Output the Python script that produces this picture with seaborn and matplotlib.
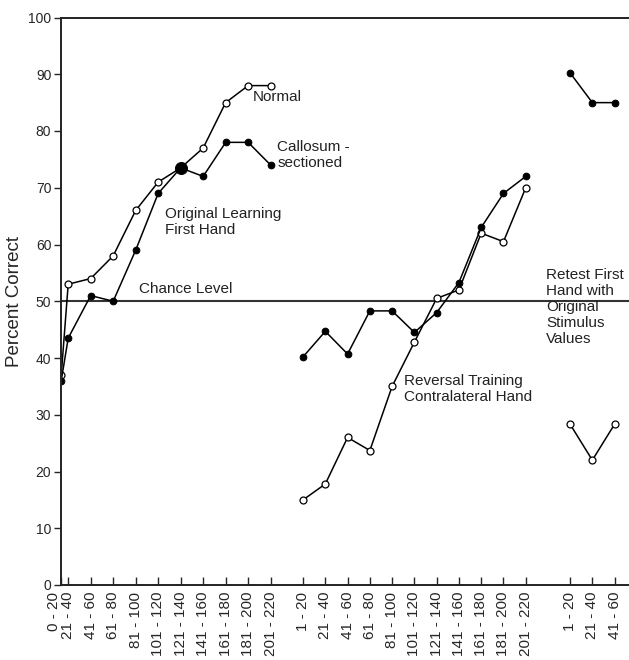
import numpy as np
import matplotlib
matplotlib.use("Agg")
import matplotlib.pyplot as plt
from matplotlib.transforms import ScaledTranslation
import seaborn as sns

# ---------------- data ----------------
labels_orig = ["0 - 20", "21 - 40", "41 - 60", "61 - 80", "81 - 100", "101 - 120",
               "121 - 140", "141 - 160", "161 - 180", "181 - 200", "201 - 220"]
labels_rev = ["1 - 20", "21 - 40", "41 - 60", "61 - 80", "81 - 100", "101 - 120",
              "121 - 140", "141 - 160", "161 - 180", "181 - 200", "201 - 220"]
labels_retest = ["1 - 20", "21 - 40", "41 - 60"]

normal_orig = [37, 53, 54, 58, 66, 71, 73.5, 77, 85, 88, 88]
callosum_orig = [36, 43.5, 51, 50, 59, 69, 73.5, 72, 78, 78, 74]
normal_rev = [15, 17.8, 26, 23.7, 35, 42.8, 50.5, 52, 62, 60.5, 70]
callosum_rev = [40.2, 44.7, 40.7, 48.3, 48.3, 44.5, 48, 53.3, 63, 69, 72]
normal_retest = [28.4, 22, 28.4]
callosum_retest = [90.3, 85, 85]
chance_level = 50

# ---------------- layout (slot positions on x) ----------------
pos_orig = np.r_[0.69, np.arange(1, 11)]
pos_rev = 11.44 + np.arange(11) * 0.99
pos_retest = 23.3 + np.arange(3) * 1.0

sns.set_style("ticks")
plt.rcParams["font.family"] = ["Liberation Sans", "DejaVu Sans"]

fig = plt.figure(figsize=(6.29, 6.6), dpi=100)
ax = fig.add_axes([61 / 629, 1 - 585 / 660, 1 - 61 / 629, (585 - 17.5) / 660])

lw = 1.1
open_kw = dict(color="black", marker="o", markersize=5, markerfacecolor="white",
               markeredgecolor="black", markeredgewidth=0.9, linewidth=lw)
fill_kw = dict(color="black", marker="o", markersize=4.8, markerfacecolor="black",
               markeredgecolor="black", linewidth=lw)

for xs, ys in [(pos_orig, normal_orig), (pos_rev, normal_rev), (pos_retest, normal_retest)]:
    sns.lineplot(x=xs, y=ys, ax=ax, **open_kw)
for xs, ys in [(pos_orig, callosum_orig), (pos_rev, callosum_rev), (pos_retest, callosum_retest)]:
    sns.lineplot(x=xs, y=ys, ax=ax, **fill_kw)

# large dot where both groups meet
sns.scatterplot(x=[pos_orig[6]], y=[callosum_orig[6]], ax=ax, s=75, color="black",
                edgecolor="black", zorder=5)

ax.axhline(chance_level, color="#333333", linewidth=1.5, zorder=1)

ax.set_xlim(0.68, 25.93)
ax.set_ylim(0, 100)
ax.set_yticks(np.arange(0, 101, 10))
ax.tick_params(axis="y", direction="out", length=5, width=1, labelsize=10, pad=2)
ticks = np.r_[pos_orig, pos_rev, pos_retest]
ax.set_xticks(ticks)
ax.set_xticklabels(labels_orig + labels_rev + labels_retest, rotation=90)
ax.tick_params(axis="x", direction="in", length=6, width=1, labelsize=11, pad=5)

# shift first label left of the axis as in the reference
first = ax.get_xticklabels()[0]
first.set_transform(first.get_transform() + ScaledTranslation(-0.075, 0, fig.dpi_scale_trans))

ax.set_ylabel("Percent Correct", fontsize=13.5, labelpad=4)

for side in ["left", "bottom", "top"]:
    ax.spines[side].set_linewidth(1.4)
    ax.spines[side].set_color("#222222")
ax.spines["right"].set_visible(False)

tk = dict(fontsize=11, color="#222222", ha="left", va="center", linespacing=1.2)
ax.text(9.22, 86.0, "Normal", **tk)
ax.text(10.29, 75.8, "Callosum -\nsectioned", **tk)
ax.text(5.31, 64.0, "Original Learning\nFirst Hand", **tk)
ax.text(4.16, 52.2, "Chance Level", **tk)
ax.text(22.24, 49.0, "Retest First\nHand with\nOriginal\nStimulus\nValues", **tk)
ax.text(15.93, 34.5, "Reversal Training\nContralateral Hand", **tk)

fig.savefig("out.png", dpi=100)
